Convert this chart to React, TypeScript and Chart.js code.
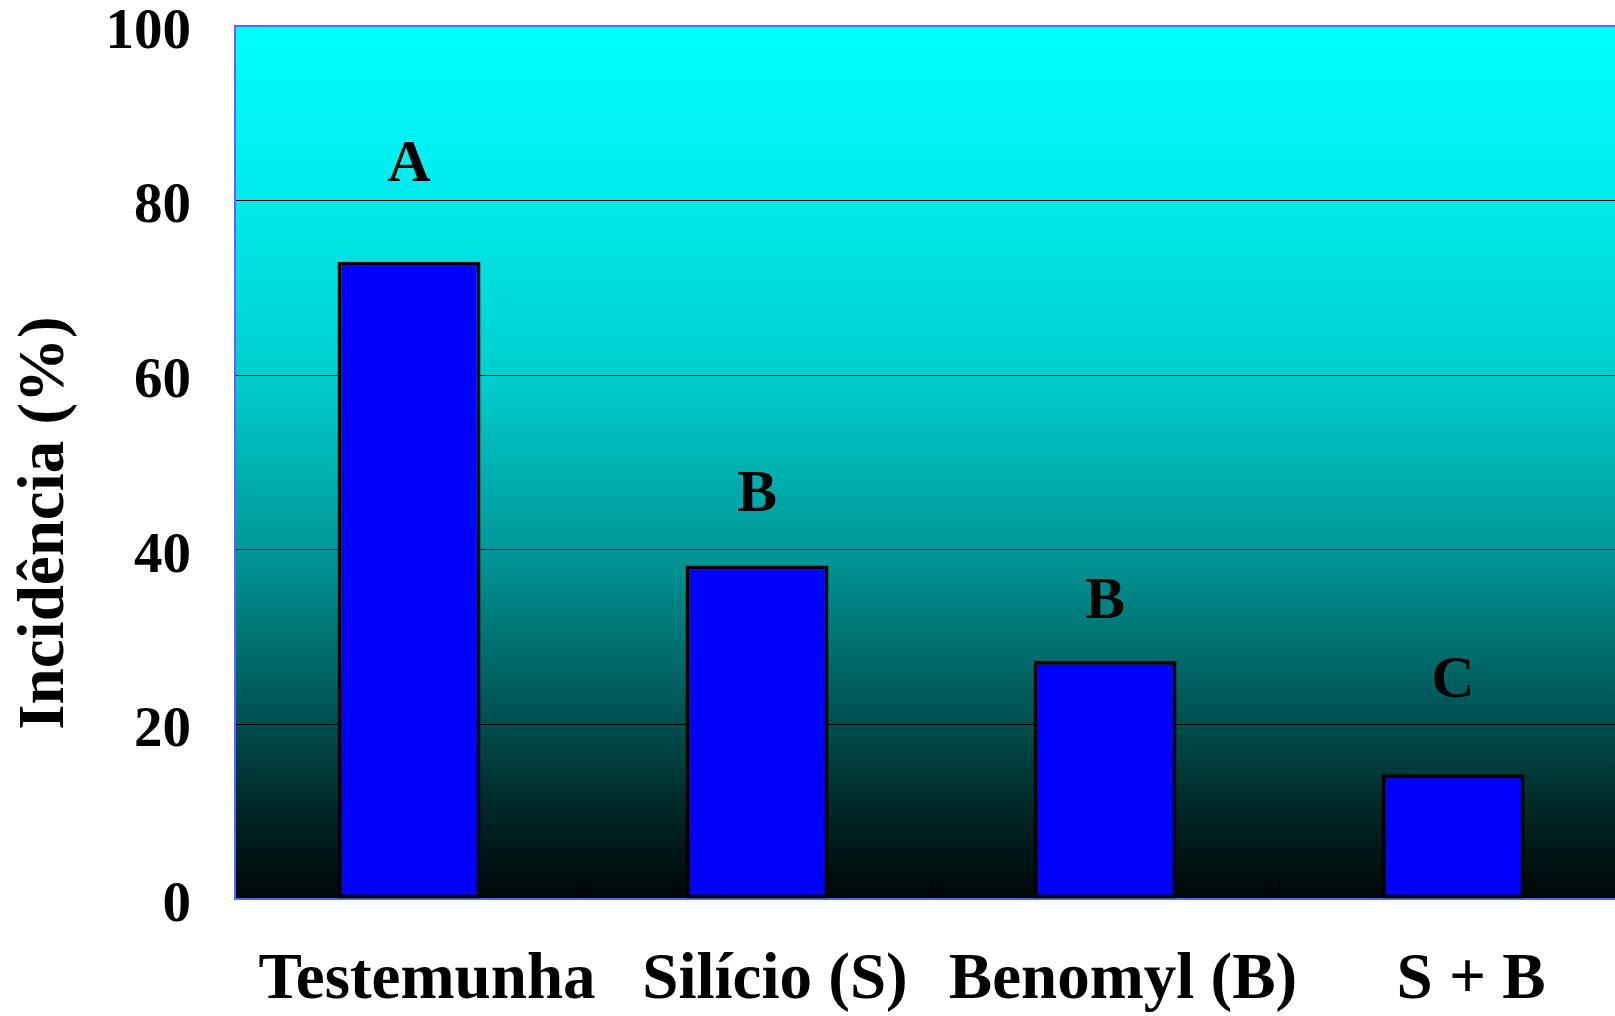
import { useEffect, useRef } from "react";
import { Chart, registerables } from "chart.js";

Chart.register(...registerables);

// Disease incidence per treatment, with the mean-separation letters
const treatments = ["Testemunha", "Silício (S)", "Benomyl (B)", "S + B"];
const incidence = [73, 38.2, 27.3, 14.3];
const groupLetters = ["A", "B", "B", "C"];
const letterLevels = [84, 46.2, 34, 24.9];
const yAxisTitle = "Incidência (%)";

const SERIF = '"Liberation Serif", "Times New Roman", Times, serif';

// cyan-to-black fill of the plot area (brighter in the upper half)
const plotBackground = {
  id: "plotBackground",
  beforeDraw(chart: any) {
    const { ctx, chartArea } = chart;
    if (!chartArea) return;
    const g = ctx.createLinearGradient(0, chartArea.top, 0, chartArea.bottom);
    g.addColorStop(0, "#00ffff");
    g.addColorStop(0.2, "#00eaea");
    g.addColorStop(0.4, "#00cdcd");
    g.addColorStop(0.6, "#009898");
    g.addColorStop(0.8, "#004e4e");
    g.addColorStop(0.9, "#002626");
    g.addColorStop(1, "#000505");
    ctx.save();
    ctx.fillStyle = g;
    ctx.fillRect(chartArea.left, chartArea.top, chartArea.right - chartArea.left, chartArea.bottom - chartArea.top);
    ctx.restore();
  },
};

const plotFrame = {
  id: "plotFrame",
  beforeDatasetsDraw(chart: any) {
    const { ctx, chartArea, scales } = chart;
    const { left, right, top, bottom } = chartArea;
    ctx.save();
    // short tick marks between categories, drawn inward
    ctx.strokeStyle = "#000000";
    ctx.lineWidth = 1;
    const x = scales.x;
    for (let i = 0; i < treatments.length - 1; i++) {
      const px = Math.round((x.getPixelForValue(i) + x.getPixelForValue(i + 1)) / 2) + 0.5;
      ctx.beginPath();
      ctx.moveTo(px, bottom);
      ctx.lineTo(px, bottom - 19);
      ctx.stroke();
    }
    // blue frame on top, left and bottom
    ctx.strokeStyle = "#4f6bff";
    ctx.lineWidth = 2;
    ctx.beginPath();
    ctx.moveTo(right + 5, top);
    ctx.lineTo(left, top);
    ctx.lineTo(left, bottom);
    ctx.lineTo(right + 5, bottom);
    ctx.stroke();
    ctx.restore();
  },
};

const groupLabels = {
  id: "groupLabels",
  afterDatasetsDraw(chart: any) {
    const { ctx, scales } = chart;
    ctx.save();
    ctx.fillStyle = "#000000";
    ctx.font = `bold 60px ${SERIF}`;
    ctx.textAlign = "center";
    ctx.textBaseline = "middle";
    groupLetters.forEach((letter, i) => {
      ctx.fillText(letter, scales.x.getPixelForValue(i), scales.y.getPixelForValue(letterLevels[i]));
    });
    ctx.restore();
  },
};

const sideTitle = {
  id: "sideTitle",
  afterDraw(chart: any) {
    const { ctx } = chart;
    ctx.save();
    ctx.translate(46, 523);
    ctx.rotate(-Math.PI / 2);
    ctx.fillStyle = "#000000";
    ctx.font = `bold 65px ${SERIF}`;
    ctx.textAlign = "center";
    ctx.textBaseline = "middle";
    ctx.fillText(yAxisTitle, 0, 0);
    ctx.restore();
  },
};

export default function App() {
  const canvasRef = useRef<HTMLCanvasElement | null>(null);

  useEffect(() => {
    const canvas = canvasRef.current;
    if (!canvas) return;
    const chart = new Chart(canvas, {
      type: "bar",
      data: {
        labels: treatments,
        datasets: [
          {
            data: incidence,
            backgroundColor: "#0000ff",
            borderColor: "#000000",
            borderWidth: 4,
            borderSkipped: false,
            barPercentage: 0.411,
            categoryPercentage: 1,
          },
        ],
      },
      options: {
        animation: false,
        responsive: false,
        devicePixelRatio: 1,
        layout: { autoPadding: false, padding: { top: 26, right: 13, bottom: 0, left: 0 } },
        plugins: {
          legend: { display: false },
          tooltip: { enabled: false },
          title: { display: false },
        },
        scales: {
          x: {
            grid: { display: false, drawTicks: false },
            border: { display: false },
            ticks: {
              color: "#000000",
              font: { family: SERIF, size: 65, weight: "bold" },
              padding: 43,
              labelOffset: 18,
              maxRotation: 0,
              autoSkip: false,
            },
            afterFit(scale: any) {
              scale.height = 117;
              scale.paddingLeft = 0;
              scale.paddingRight = 0;
            },
          },
          y: {
            min: 0,
            max: 100,
            grid: { color: "#000000", lineWidth: 1, drawTicks: false },
            border: { display: false },
            ticks: {
              stepSize: 20,
              color: "#000000",
              font: { family: SERIF, size: 57, weight: "bold" },
              padding: 44,
              labelOffset: 7,
            },
            afterFit(scale: any) {
              scale.width = 235;
              scale.paddingTop = 0;
              scale.paddingBottom = 0;
            },
          },
        },
      },
      plugins: [plotBackground, plotFrame, groupLabels, sideTitle],
    });
    return () => chart.destroy();
  }, []);

  return (
    <div
      style={{
        position: "fixed",
        left: 0,
        top: 0,
        width: 1615,
        height: 1016,
        overflow: "hidden",
        background: "#ffffff",
      }}
    >
      <canvas ref={canvasRef} width={1640} height={1016} style={{ width: 1640, height: 1016, display: "block" }} />
    </div>
  );
}
